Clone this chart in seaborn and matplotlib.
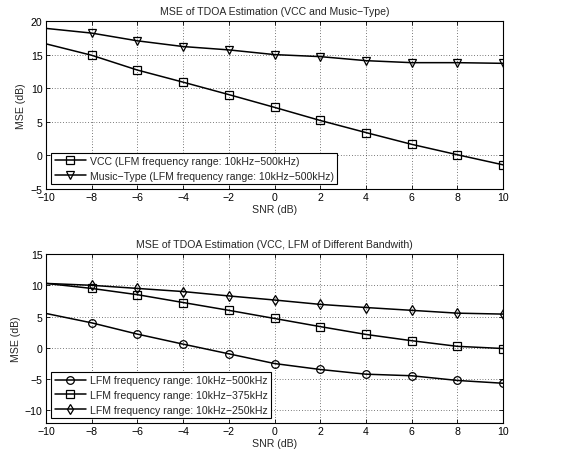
import numpy as np
import pandas as pd
import seaborn as sns
import matplotlib
matplotlib.use("Agg")
import matplotlib.pyplot as plt
from matplotlib.lines import Line2D

snr = [-10, -8, -6, -4, -2, 0, 2, 4, 6, 8, 10]

vcc = [16.6, 14.9, 12.7, 10.9, 9.05, 7.15, 5.2, 3.4, 1.65, 0.1, -1.4]
music = [18.9, 18.2, 17.05, 16.2, 15.7, 15.0, 14.7, 14.1, 13.8, 13.8, 13.7]

lfm500 = [5.5, 4.0, 2.2, 0.6, -0.95, -2.5, -3.45, -4.2, -4.45, -5.2, -5.65]
lfm375 = [10.3, 9.5, 8.5, 7.25, 6.0, 4.7, 3.4, 2.15, 1.15, 0.25, -0.1]
lfm250 = [10.3, 10.0, 9.5, 9.0, 8.3, 7.65, 6.95, 6.45, 6.0, 5.55, 5.4]

top_labels = ["VCC (LFM frequency range: 10kHz\u2212500kHz)",
              "Music\u2212Type (LFM frequency range: 10kHz\u2212500kHz)"]
bot_labels = ["LFM frequency range: 10kHz\u2212500kHz",
              "LFM frequency range: 10kHz\u2212375kHz",
              "LFM frequency range: 10kHz\u2212250kHz"]
top_title = "MSE of TDOA Estimation (VCC and Music\u2212Type)"
bot_title = "MSE of TDOA Estimation (VCC, LFM of Different Bandwith)"

FS = 7.6

sns.set_style("ticks")
plt.rcParams['font.family'] = ['Liberation Sans', 'DejaVu Sans']
plt.rcParams['font.size'] = FS
plt.rcParams['axes.unicode_minus'] = True

fig = plt.figure(figsize=(5.84, 4.60), dpi=100)
ax1 = fig.add_axes([46/584, 1-190/460, (503-46)/584, (190-22)/460])
ax2 = fig.add_axes([46/584, 1-424/460, (503-46)/584, (424-255)/460])

def style_ax(ax, yl, yticks, title):
    ax.set_xlim(-10, 10)
    ax.set_ylim(*yl)
    ax.set_xticks(snr)
    ax.set_yticks(yticks)
    ax.tick_params(direction='in', length=3, width=0.6, top=True, right=True,
                   labelsize=FS, colors='black', pad=2.5)
    ax.grid(True, linestyle=(0, (1, 3)), color='black', linewidth=0.5)
    for s in ax.spines.values():
        s.set_visible(True)
        s.set_linewidth(0.8)
        s.set_color('black')
    ax.set_xlabel("SNR (dB)", fontsize=FS, labelpad=1)
    ax.set_ylabel("MSE (dB)", fontsize=FS, labelpad=3)
    ax.set_title(title, fontsize=FS, pad=5)

def draw(ax, y, marker, label):
    sns.lineplot(x=snr, y=y, ax=ax, color='black', linewidth=1.1,
                 marker=marker, markersize=5.5, markerfacecolor='none',
                 markeredgecolor='black', markeredgewidth=0.9,
                 markevery=slice(1, None), label=label)

draw(ax1, vcc, 's', top_labels[0])
draw(ax1, music, 'v', top_labels[1])
style_ax(ax1, (-5, 20), [-5, 0, 5, 10, 15, 20], top_title)

draw(ax2, lfm500, 'o', bot_labels[0])
draw(ax2, lfm375, 's', bot_labels[1])
draw(ax2, lfm250, 'd', bot_labels[2])
style_ax(ax2, (-12, 15), [-10, -5, 0, 5, 10, 15], bot_title)

def legend(ax, markers, labels):
    handles = [Line2D([], [], color='black', linewidth=1.1, marker=m, markersize=5.5,
                      markerfacecolor='none', markeredgecolor='black',
                      markeredgewidth=0.9) for m in markers]
    leg = ax.legend(handles, labels, loc='lower left', bbox_to_anchor=(0.012, 0.03),
                    fontsize=FS, frameon=True, fancybox=False, framealpha=1,
                    edgecolor='black', handlelength=3.0, handletextpad=0.35,
                    borderpad=0.3, labelspacing=0.45, borderaxespad=0.0)
    leg.get_frame().set_linewidth(0.8)

legend(ax1, ['s', 'v'], top_labels)
legend(ax2, ['o', 's', 'd'], bot_labels)

fig.savefig("out.png", dpi=100, facecolor='white')
